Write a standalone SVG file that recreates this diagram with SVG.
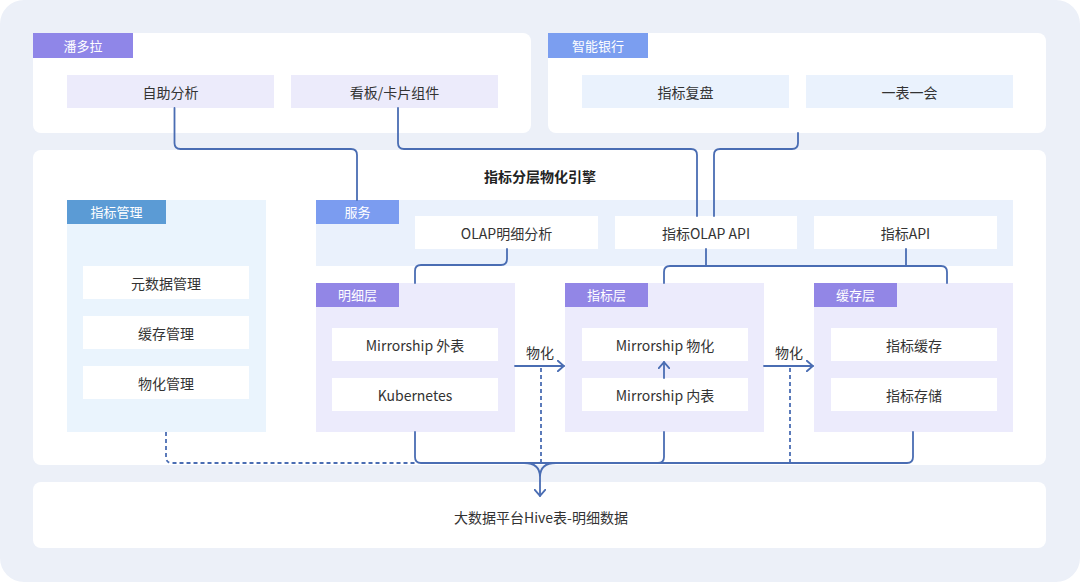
<svg xmlns="http://www.w3.org/2000/svg" width="1080" height="582" viewBox="0 0 1080 582">
<style>
text{font-family:"Noto Sans CJK SC","Noto Sans",sans-serif;text-anchor:middle;dominant-baseline:central}
.panel{fill:#ffffff}
.tabt{fill:#ffffff;font-size:13px}
.nt{fill:#333333;font-size:14px}
.white{fill:#ffffff}
.ln{fill:none;stroke:#4a6db3;stroke-width:1.8;stroke-linecap:round;stroke-linejoin:round}
.dash{fill:none;stroke:#4a6db3;stroke-width:1.8;stroke-dasharray:4 3}
</style>
<defs>
<marker id="arr" viewBox="0 0 8 12" refX="7.2" refY="6" markerWidth="8" markerHeight="12" markerUnits="userSpaceOnUse" orient="auto">
<path d="M1,0.8 L7,6 L1,11.2" fill="none" stroke="#4a6db3" stroke-width="1.8" stroke-linecap="round" stroke-linejoin="round"/>
</marker>
</defs>
<rect x="0" y="0" width="1080" height="582" rx="24" fill="#ecf0f8"/>

<g id="pandora">
<rect class="panel" x="33" y="33" width="498" height="100" rx="8"/>
<rect x="33" y="33" width="100" height="25" fill="#8f86e8"/>
<text class="tabt" x="83" y="45.5">潘多拉</text>
</g>
<g id="node-zizhu">
<rect x="67" y="75" width="207" height="33" fill="#ecebfb"/>
<text class="nt" x="170.5" y="91.5">自助分析</text>
</g>
<g id="node-kanban">
<rect x="291" y="75" width="207" height="33" fill="#ecebfb"/>
<text class="nt" x="394.5" y="91.5">看板/卡片组件</text>
</g>

<g id="smartbank">
<rect class="panel" x="548" y="33" width="498" height="100" rx="8"/>
<rect x="548" y="33" width="100" height="25" fill="#7b9ef0"/>
<text class="tabt" x="598" y="45.5">智能银行</text>
</g>
<g id="node-fupan">
<rect x="582" y="75" width="207" height="33" fill="#eaf2fd"/>
<text class="nt" x="685.5" y="91.5">指标复盘</text>
</g>
<g id="node-yibiao">
<rect x="806" y="75" width="207" height="33" fill="#eaf2fd"/>
<text class="nt" x="909.5" y="91.5">一表一会</text>
</g>

<g id="engine">
<rect class="panel" x="33" y="150" width="1013" height="315" rx="8"/>
<text x="540" y="175.5" style="font-size:14px;font-weight:bold;fill:#222222">指标分层物化引擎</text>
</g>

<g id="metric-mgmt">
<rect x="67" y="200" width="199" height="232" fill="#eaf4fd"/>
<rect x="67" y="200" width="99" height="24" fill="#5b9bd5"/>
<text class="tabt" x="116.5" y="211.5">指标管理</text>
<rect class="white" x="83" y="266" width="166" height="33"/>
<text class="nt" x="166" y="282.5">元数据管理</text>
<rect class="white" x="83" y="316" width="166" height="33"/>
<text class="nt" x="166" y="332.5">缓存管理</text>
<rect class="white" x="83" y="366" width="166" height="33"/>
<text class="nt" x="166" y="382.5">物化管理</text>
</g>

<g id="service">
<rect x="316" y="200" width="697" height="66" fill="#eaf1fc"/>
<rect x="316" y="200" width="83" height="24" fill="#7b9cf0"/>
<text class="tabt" x="357.5" y="211.5">服务</text>
</g>
<g id="node-olap-detail">
<rect class="white" x="415" y="216" width="183" height="33"/>
<text class="nt" x="506.5" y="232.5">OLAP明细分析</text>
</g>
<g id="node-olap-api">
<rect class="white" x="615" y="216" width="182" height="33"/>
<text class="nt" x="706" y="232.5">指标OLAP API</text>
</g>
<g id="node-api">
<rect class="white" x="814" y="216" width="183" height="33"/>
<text class="nt" x="905.5" y="232.5">指标API</text>
</g>

<g id="detail-layer">
<rect x="316" y="283" width="199" height="149" fill="#ecebfc"/>
<rect x="316" y="283" width="83" height="24" fill="#9286e6"/>
<text class="tabt" x="357.5" y="294.5">明细层</text>
<rect class="white" x="332" y="328" width="166" height="33"/>
<text class="nt" x="415" y="344.5">Mirrorship 外表</text>
<rect class="white" x="332" y="378" width="166" height="33"/>
<text class="nt" x="415" y="394.5">Kubernetes</text>
</g>

<g id="metric-layer">
<rect x="565" y="283" width="199" height="149" fill="#ecebfc"/>
<rect x="565" y="283" width="83" height="24" fill="#9286e6"/>
<text class="tabt" x="606.5" y="294.5">指标层</text>
<rect class="white" x="582" y="328" width="166" height="33"/>
<text class="nt" x="665" y="344.5">Mirrorship 物化</text>
<rect class="white" x="582" y="378" width="166" height="33"/>
<text class="nt" x="665" y="394.5">Mirrorship 内表</text>
</g>

<g id="cache-layer">
<rect x="814" y="283" width="199" height="149" fill="#ecebfc"/>
<rect x="814" y="283" width="83" height="24" fill="#9286e6"/>
<text class="tabt" x="855.5" y="294.5">缓存层</text>
<rect class="white" x="831" y="328" width="166" height="33"/>
<text class="nt" x="914" y="344.5">指标缓存</text>
<rect class="white" x="831" y="378" width="166" height="33"/>
<text class="nt" x="914" y="394.5">指标存储</text>
</g>

<g id="hive">
<rect class="panel" x="33" y="482" width="1013" height="66" rx="8"/>
<text class="nt" x="541" y="517">大数据平台Hive表-明细数据</text>
</g>

<g id="connectors">
<path class="ln" d="M174.5 108 V143 Q174.5 149 180.5 149 H351 Q357 149 357 155 V200"/>
<path class="ln" d="M398 108 V143 Q398 149 404 149 H691 Q697 149 697 155 V216"/>
<path class="ln" d="M798 133 V143 Q798 149 792 149 H720 Q714 149 714 155 V216"/>
<path class="ln" d="M507 249 V259 Q507 265 501 265 H421 Q415 265 415 271 V283"/>
<path class="ln" d="M706 249 V266 M906 249 V266 M664 283 V272 Q664 266 670 266 H941 Q947 266 947 272 V283"/>
<path class="ln" d="M515 366 H564" marker-end="url(#arr)"/>
<path class="ln" d="M764 366 H813" marker-end="url(#arr)"/>
<path class="ln" d="M664 378 V362" marker-end="url(#arr)"/>
<path class="ln" d="M415 432 V457 Q415 463 421 463 H907 Q913 463 913 457 V432 M664 432 V457 Q664 463 658 463"/>
<path class="ln" d="M524 463 Q540 463 540 477 M556 463 Q540 463 540 477 V496" marker-end="url(#arr)"/>
<path class="dash" d="M166 432 V457 Q166 463 172 463 H415"/>
<path class="dash" d="M541 368 V463"/>
<path class="dash" d="M790 368 V463"/>
<text class="nt" x="540" y="352">物化</text>
<text class="nt" x="789" y="352">物化</text>
</g>
</svg>
